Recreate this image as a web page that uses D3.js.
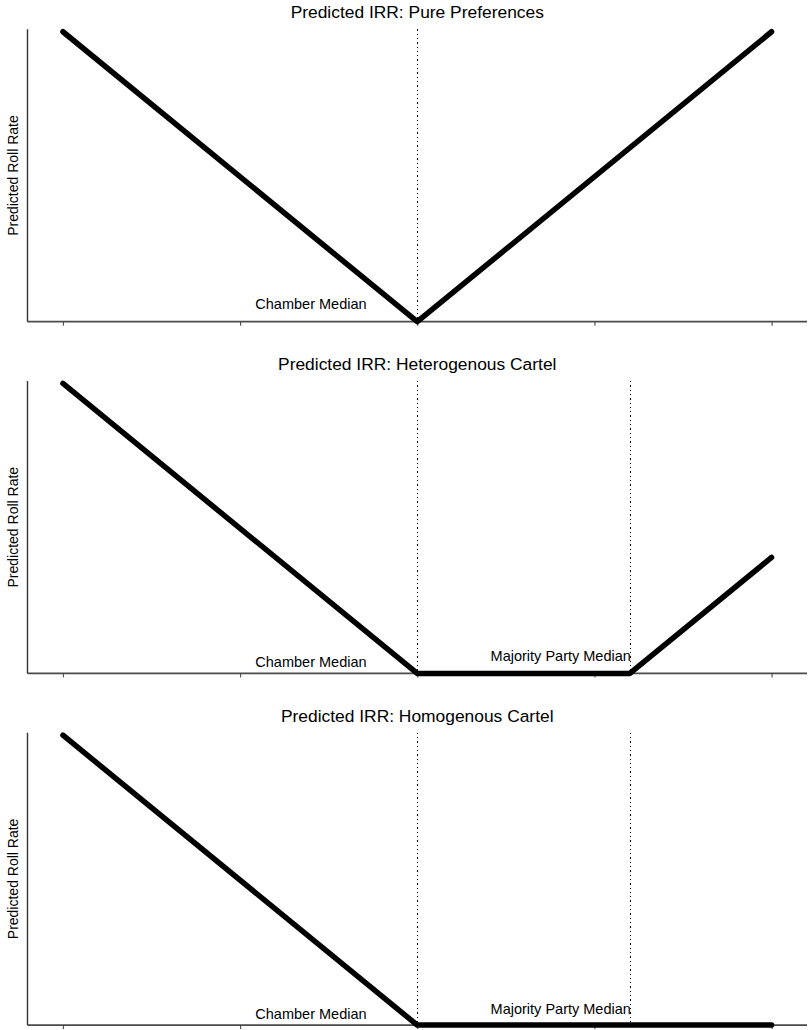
<!DOCTYPE html>
<html>
<head>
<meta charset="utf-8">
<script src="https://cdn.jsdelivr.net/npm/d3@7"></script>
<style>
  html, body { margin: 0; padding: 0; background: #fff; }
  text { font-family: "Liberation Sans", Arial, Helvetica, sans-serif; fill: #000; }
</style>
</head>
<body>
<svg id="chart" width="808" height="1030"></svg>
<script>
// ---- data ----
const titles = ["Predicted IRR: Pure Preferences", "Predicted IRR: Heterogenous Cartel", "Predicted IRR: Homogenous Cartel"];
const yLabel = "Predicted Roll Rate";
const xTicks = [1, 2, 3, 4, 5];
const chamberMedian = 3;
const majorityMedian = 4.2;
const pureX = [1, 3, 5];
const pureY = [2, 0, 2];
const heteroX = [1, 3, 4.2, 5];
const heteroY = [2, 0, 0, 0.8];
const homoX = [1, 3, 5];
const homoY = [2, 0, 0];
const chamberLabel = "Chamber Median";
const majorityLabel = "Majority Party Median";
const chamberLabelX = [2.4, 2.4, 2.4];
const chamberLabelY = [0.12, 0.08, 0.08];
const majorityLabelY = [null, 0.12, 0.11];
const showMajority = [false, true, true];

const panels = [
  {x: pureX, y: pureY},
  {x: heteroX, y: heteroY},
  {x: homoX, y: homoY}
];

// ---- layout ----
const svg = d3.select("#chart");
const left = 27.5, right = 807;
const tops = [29.3, 381, 732.7];
const plotH = 292.4;

const x = d3.scaleLinear().domain([0.8, 5.2]).range([left, right]);

panels.forEach((p, i) => {
  const top = tops[i], bottom = top + plotH;
  const y = d3.scaleLinear().domain([0, 2.01]).range([bottom, top + 1]);
  const g = svg.append("g");

  // title
  g.append("text")
    .attr("x", (left + right) / 2)
    .attr("y", top - 11)
    .attr("text-anchor", "middle")
    .style("font-size", "17.4px")
    .text(titles[i]);

  // y label
  g.append("text")
    .attr("transform", `translate(18,${top + plotH / 2}) rotate(-90)`)
    .attr("text-anchor", "middle")
    .style("font-size", "14px")
    .text(yLabel);

  // dotted vertical lines
  const vlines = showMajority[i] ? [chamberMedian, majorityMedian] : [chamberMedian];
  g.selectAll(".vl").data(vlines).enter().append("line")
    .attr("x1", d => Math.round(x(d)) + 0.5).attr("x2", d => Math.round(x(d)) + 0.5)
    .attr("y1", top).attr("y2", bottom)
    .attr("stroke", "#000").attr("stroke-width", 1)
    .attr("stroke-dasharray", "1.3,3")
    .attr("shape-rendering", "crispEdges");

  // bottom axis
  const xAxis = d3.axisBottom(x).tickValues(xTicks).tickSize(4).tickFormat("");
  const ax = g.append("g").attr("transform", `translate(0,${bottom})`).call(xAxis);
  ax.select(".domain").remove();
  ax.selectAll(".tick line").attr("stroke", "#555").attr("stroke-width", 1.2);
  g.append("line")
    .attr("x1", left).attr("x2", right)
    .attr("y1", bottom).attr("y2", bottom)
    .attr("stroke", "#4a4a4a").attr("stroke-width", 1.8);
  // left axis
  g.append("line")
    .attr("x1", left).attr("x2", left)
    .attr("y1", top).attr("y2", bottom)
    .attr("stroke", "#333").attr("stroke-width", 1.4);

  // data line
  const pts = p.x.map((v, k) => [v, p.y[k]]);
  g.append("path")
    .datum(pts)
    .attr("d", d3.line().x(d => x(d[0])).y(d => y(d[1])))
    .attr("fill", "none")
    .attr("stroke", "#000")
    .attr("stroke-width", 5.5)
    .attr("stroke-linejoin", "round")
    .attr("stroke-linecap", "round");

  // labels
  g.append("text")
    .attr("x", x(chamberLabelX[i]))
    .attr("y", y(chamberLabelY[i]))
    .attr("dy", "0.35em")
    .attr("text-anchor", "middle")
    .style("font-size", "14.5px")
    .text(chamberLabel);
  if (showMajority[i]) {
    g.append("text")
      .attr("x", x(majorityMedian) + 1)
      .attr("y", y(majorityLabelY[i]))
      .attr("dy", "0.35em")
      .attr("text-anchor", "end")
      .style("font-size", "14.5px")
      .text(majorityLabel);
  }
});
</script>
</body>
</html>
